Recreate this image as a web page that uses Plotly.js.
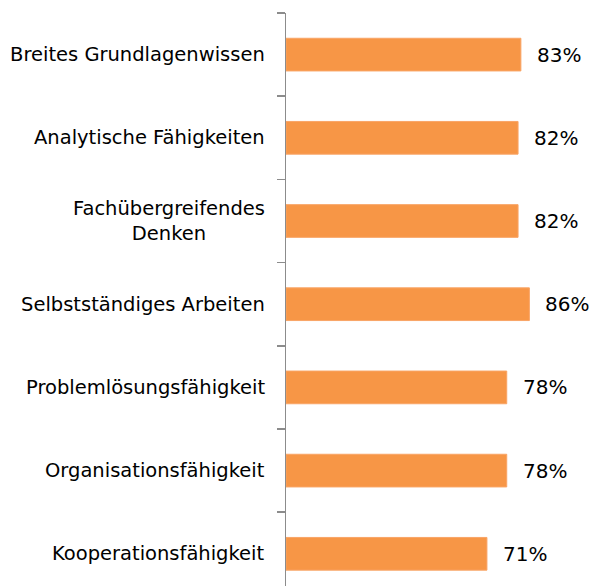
<!DOCTYPE html>
<html>
<head>
<meta charset="utf-8">
<script src="https://cdn.plot.ly/plotly-3.0.1.min.js"></script>
<style>html,body{margin:0;padding:0;background:#fff;}#chart{width:591px;height:586px;}</style>
</head>
<body>
<div id="chart"></div>
<script>
var categories = [
  "Breites Grundlagenwissen",
  "Analytische Fähigkeiten",
  "Fachübergreifendes<br>Denken",
  "Selbstständiges Arbeiten",
  "Problemlösungsfähigkeit",
  "Organisationsfähigkeit",
  "Kooperationsfähigkeit"
];
var values = [83, 82, 82, 86, 78, 78, 71];
var valueLabels = ["83%", "82%", "82%", "86%", "78%", "78%", "71%"];

var FONT = "Tahoma, 'DejaVu Sans', sans-serif";

var trace = {
  type: "bar",
  orientation: "h",
  x: values,
  y: categories,
  marker: {color: "#F79646", line: {color: "#F9A465", width: 1}},
  hoverinfo: "none"
};

var annotations = [];
categories.forEach(function (c, i) {
  annotations.push({
    x: values[i], y: c, xref: "x", yref: "y",
    text: valueLabels[i], showarrow: false,
    xanchor: "left", yanchor: "middle", xshift: 14,
    font: {family: FONT, size: 20, color: "#000"}
  });
  annotations.push({
    x: 0, y: c, xref: "paper", yref: "y",
    text: c, showarrow: false, align: "center",
    xanchor: "right", yanchor: "middle", xshift: -19,
    font: {family: FONT, size: 19.5, color: "#000"}
  });
});

var layout = {
  width: 591, height: 586,
  margin: {l: 286, r: 22, t: 13, b: 0, pad: 0},
  paper_bgcolor: "#fff", plot_bgcolor: "#fff",
  showlegend: false,
  bargap: 0.607,
  xaxis: {range: [0, 100], visible: false, fixedrange: true},
  yaxis: {
    type: "category",
    range: [6.387, -0.5],
    showticklabels: false,
    showgrid: false, zeroline: false,
    showline: true, linecolor: "#8C8C8C", linewidth: 1.5,
    ticks: "outside", tickson: "boundaries", ticklen: 8, tickcolor: "#8C8C8C", tickwidth: 1.5
  },
  annotations: annotations
};

Plotly.newPlot("chart", [trace], layout, {displayModeBar: false, staticPlot: true});
</script>
</body>
</html>
